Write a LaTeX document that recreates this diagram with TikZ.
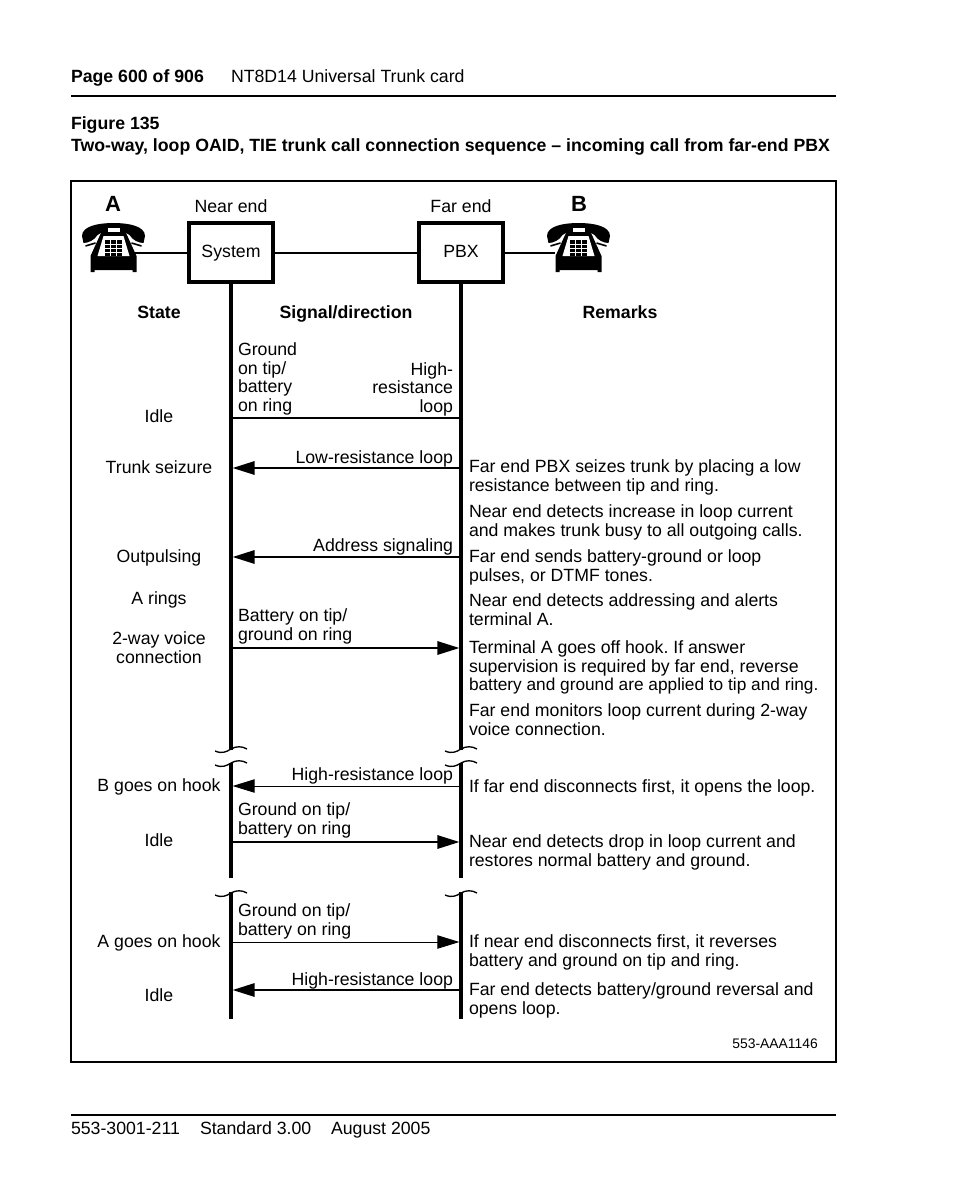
\documentclass[tikz,border=0pt]{standalone}
\usepackage{fontspec}
\setmainfont{Liberation Sans}
\usetikzlibrary{arrows.meta}
\tikzset{
  x=0.75pt,y=-0.75pt,
  txt/.style={inner sep=0pt,outer sep=0pt,yshift=-0.75pt,font=\fontsize{13.28}{14}\selectfont,execute at begin node=\frenchspacing\strut},
  lft/.style={txt,anchor=north west,align=left},
  rgt/.style={txt,anchor=north east,align=right},
  ctr/.style={txt,anchor=north,align=center},
  bld/.style={lft,font=\fontsize{13.28}{14}\selectfont\bfseries},
  cbld/.style={ctr,font=\fontsize{13.28}{14}\selectfont\bfseries},
  rulel/.style={line width=1.5pt,black},
  boxn/.style={draw,line width=3pt,minimum width=63pt,minimum height=44.25pt,inner sep=0pt,text height=9.4pt,text depth=2.6pt,font=\fontsize{13.28}{14}\selectfont,anchor=center},
  life/.style={line width=3pt},
  lnk/.style={line width=1.2pt},
  thin sig/.style={line width=0.7pt},
  thick sig/.style={line width=1.5pt},
  tipr/.style={-{Triangle[length=16.5pt,width=10pt]},shorten >=1.2pt},
  wig/.pic={\draw[line width=1pt] (-16,2) .. controls (-9,5) and (-5,3) .. (0,0) .. controls (5,-3) and (11,-3) .. (16,0);},
  phone/.pic={
    \fill (-31.5,-12) .. controls (-31.5,-22) and (-15,-25) .. (0,-25) .. controls (15,-25) and (31.5,-22) .. (31.5,-12) -- (30,-5)
      .. controls (25,-5) and (19,-8) .. (16,-13) .. controls (8,-19) and (-8,-19) .. (-16,-13)
      .. controls (-19,-8) and (-25,-5) .. (-30,-5) -- cycle;
    \draw[line width=1.2pt] (-28,-2) -- (-18,-5) (28,-2) -- (18,-5);
    \fill (-11,-20) -- (11,-20) -- (13,-14) -- (23,8) -- (23,24) -- (19,24) -- (19,22) -- (-19,22) -- (-19,24) -- (-23,24) -- (-23,8) -- (-13,-14) -- (-11,-20) -- cycle;
    \fill[white] (-6,-20) rectangle (6,-16);
    \fill[white] (-10,-12) -- (10,-12) -- (16,8) -- (-16,8) -- cycle;
    \fill (-8.5,-8) rectangle (8.5,8);
    \foreach \u in {-3,3}{\fill[white] (\u-0.4,-8) rectangle (\u+0.4,8);}
    \foreach \v in {-4,0,4}{\fill[white] (-8.5,\v-0.4) rectangle (8.5,\v+0.4);}
  }
}
\begin{document}
\begin{tikzpicture}
\useasboundingbox (0,0) rectangle (954,1202);
\fill[white] (0,0) rectangle (954,1202);
% page furniture
\node[bld] (hdrA) at (71,68.5) {Page 600 of 906};
\node[lft] (hdrB) at (231,68.5) {NT8D14 Universal Trunk card};
\coordinate (r1a) at (71,96); \coordinate (r1b) at (836,96);
\draw[rulel] (r1a) -- (r1b);
\node[bld] (figno) at (71,115.5) {Figure 135};
\node[bld] (figt) at (71,137.5) {Two-way, loop OAID, TIE trunk call connection sequence – incoming call from far-end PBX};
\draw[rulel] (71,181) rectangle (836,1062);
\coordinate (r2a) at (71,1115); \coordinate (r2b) at (836,1115);
\draw[rulel] (r2a) -- (r2b);
\node[lft] (ftA) at (71,1120.5) {553-3001-211};
\node[lft] (ftB) at (200,1120.5) {Standard 3.00};
\node[lft] (ftC) at (331,1120.5) {August 2005};
\node[anchor=east,inner sep=0pt,font=\fontsize{10.4}{11}\selectfont] (code) at (818,1044) {553-AAA1146};
% header of diagram
\node[anchor=center,inner sep=0pt,font=\fontsize{16.5}{18}\selectfont\bfseries] (lA) at (113,204) {A};
\node[anchor=center,inner sep=0pt,font=\fontsize{16.5}{18}\selectfont\bfseries] (lB) at (579,204) {B};
\node[ctr] (ne) at (231,198.5) {Near end};
\node[ctr] (fe) at (461,198.5) {Far end};
\pic at (113.5,248) {phone};
\pic at (578.5,248) {phone};
\coordinate (pa) at (134,253);
\coordinate (pb) at (555,253);
\node[boxn] (sys) at (231,252.5) {System};
\node[boxn] (pbx) at (461,252.5) {PBX};
\draw[lnk] (pa) -- (pa -| sys.west);
\draw[lnk] (pa -| sys.east) -- (pa -| pbx.west);
\draw[lnk] (pa -| pbx.east) -- (pb);
% lifelines
\coordinate (l1) at (231,750); \coordinate (l2) at (231,763); \coordinate (l3) at (231,878); \coordinate (l4) at (231,892); \coordinate (l5) at (231,1019);
\coordinate (m1) at (461,750); \coordinate (m2) at (461,763); \coordinate (m3) at (461,878); \coordinate (m4) at (461,892); \coordinate (m5) at (461,1019);
\draw[life] (sys.south) -- (l1);
\draw[life] (l2) -- (l3);
\draw[life] (l4) -- (l5);
\draw[life] (pbx.south) -- (m1);
\draw[life] (m2) -- (m3);
\draw[life] (m4) -- (m5);
\pic at (231,749) {wig}; \pic at (231,763) {wig}; \pic at (231,893) {wig};
\pic at (461,749) {wig}; \pic at (461,763) {wig}; \pic at (461,893) {wig};
% column heads
\node[cbld] (h1) at (159,304.5) {State};
\node[cbld] (h2) at (346,304.5) {Signal/direction};
\node[cbld] (h3) at (620,304.5) {Remarks};
% signals
\coordinate (a1) at (231,418); \coordinate (b1) at (461,418);
\coordinate (a2) at (231,468); \coordinate (b2) at (461,468);
\coordinate (a3) at (231,557); \coordinate (b3) at (461,557);
\coordinate (a4) at (231,648); \coordinate (b4) at (461,648);
\coordinate (a5) at (231,786); \coordinate (b5) at (461,786);
\coordinate (a6) at (231,842); \coordinate (b6) at (461,842);
\coordinate (a7) at (231,942); \coordinate (b7) at (461,942);
\coordinate (a8) at (231,990); \coordinate (b8) at (461,990);
\draw[thick sig] (a1) -- (b1);
\draw[thick sig,tipr] (b2) -- (a2);
\draw[thick sig,tipr] (b3) -- (a3);
\draw[thick sig,tipr] (a4) -- (b4);
\draw[thin sig,tipr] (b5) -- (a5);
\draw[thick sig,tipr] (a6) -- (b6);
\draw[thin sig,tipr] (a7) -- (b7);
\draw[thick sig,tipr] (b8) -- (a8);
% signal labels
\node[lft] (s1) at (238,341.5) {Ground\\on tip/\\battery\\on ring};
\node[rgt] (s2) at (453,361.5) {High-\\resistance\\loop};
\node[rgt] (s3) at (453,449.5) {Low-resistance loop};
\node[rgt] (s4) at (453,537.5) {Address signaling};
\node[lft] (s5) at (238,607.5) {Battery on tip/\\ground on ring};
\node[rgt] (s6) at (453,766.5) {High-resistance loop};
\node[lft] (s7) at (238,801.5) {Ground on tip/\\battery on ring};
\node[lft] (s8) at (238,902.5) {Ground on tip/\\battery on ring};
\node[rgt] (s9) at (453,971.5) {High-resistance loop};
% states
\node[ctr] (t1) at (159,408.5) {Idle};
\node[ctr] (t2) at (159,459.5) {Trunk seizure};
\node[ctr] (t3) at (159,548.5) {Outpulsing};
\node[ctr] (t4) at (159,590.5) {A rings};
\node[ctr] (t5) at (159,630.5) {2-way voice\\connection};
\node[ctr] (t6) at (159,777.5) {B goes on hook};
\node[ctr] (t7) at (159,832.5) {Idle};
\node[ctr] (t8) at (159,933.5) {A goes on hook};
\node[ctr] (t9) at (159,987.5) {Idle};
% remarks
\node[lft] (c1) at (469,458.5) {Far end PBX seizes trunk by placing a low\\resistance between tip and ring.};
\node[lft] (c2) at (469,503.5) {Near end detects increase in loop current\\and makes trunk busy to all outgoing calls.};
\node[lft] (c3) at (469,548.5) {Far end sends battery-ground or loop\\pulses, or DTMF tones.};
\node[lft] (c4) at (469,592.5) {Near end detects addressing and alerts\\terminal A.};
\node[lft] (c5) at (469,639.5) {Terminal A goes off hook. If answer\\supervision is required by far end, reverse\\{\fontsize{12.95}{14}\selectfont battery and ground are applied to tip and ring.}};
\node[lft] (c6) at (469,702.5) {Far end monitors loop current during 2-way\\voice connection.};
\node[lft] (c7) at (469,778.5) {If far end disconnects first, it opens the loop.};
\node[lft] (c8) at (469,833.5) {Near end detects drop in loop current and\\restores normal battery and ground.};
\node[lft] (c9) at (469,933.5) {If near end disconnects first, it reverses\\battery and ground on tip and ring.};
\node[lft] (c10) at (469,981.5) {Far end detects battery/ground reversal and\\opens loop.};
\end{tikzpicture}
\end{document}
